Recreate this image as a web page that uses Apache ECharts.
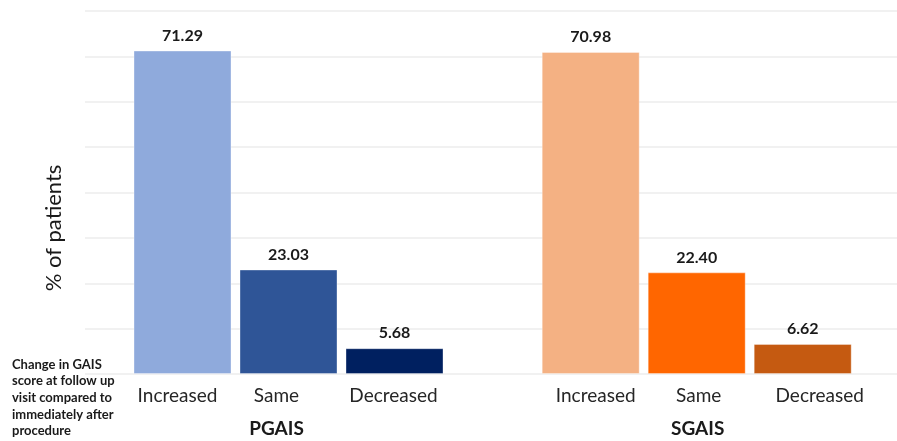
<!DOCTYPE html>
<html>
<head>
<meta charset="utf-8">
<script src="https://cdn.jsdelivr.net/npm/echarts@6/dist/echarts.min.js"></script>
<style>
  html, body { margin: 0; padding: 0; background: #ffffff; }
  #chart { width: 897px; height: 441px; }
</style>
</head>
<body>
<div id="chart"></div>
<script>
// Change in GAIS score at follow-up visit, % of patients
const categories = ['Increased', 'Same', 'Decreased'];
const pgaisValues = [71.29, 23.03, 5.68];
const sgaisValues = [70.98, 22.40, 6.62];
const groupNames = ['PGAIS', 'SGAIS'];
const pgaisColors = ['#8FAADC', '#2F5597', '#002060'];
const sgaisColors = ['#F4B183', '#FF6600', '#C55A11'];
const yMin = 0, yMax = 80, yStep = 10;

// horizontal nudges (px) of the category labels under each bar
const pgaisLabelShift = [-5, -12, -1];
const sgaisLabelShift = [5, 2, 17];

const FONT = 'Lato, "Open Sans", sans-serif';
const TOP = 11, BOTTOM = 67;

function shiftPad(s) {
  return s >= 0 ? [0, 0, 0, 2 * s] : [0, -2 * s, 0, 0];
}

function barSeries(values, colors, idx) {
  return {
    type: 'bar',
    xAxisIndex: idx,
    yAxisIndex: idx,
    barWidth: 98,
    data: values.map((v, i) => ({
      value: v,
      itemStyle: { color: colors[i], borderColor: 'rgba(255,255,255,0.35)', borderWidth: 1 }
    })),
    label: {
      show: true,
      position: 'top',
      distance: 7,
      formatter: p => p.value.toFixed(2),
      fontFamily: FONT,
      fontWeight: 'bold',
      fontSize: 16,
      color: '#1a1a1a'
    },
    silent: true
  };
}

function catAxis(idx, name, namePad, shifts) {
  const rich = {};
  shifts.forEach((s, i) => {
    rich['c' + i] = { fontFamily: FONT, fontSize: 19, color: '#262626', padding: shiftPad(s) };
  });
  return {
    type: 'category',
    gridIndex: idx,
    data: categories,
    axisLine: { show: false },
    axisTick: { show: false },
    axisLabel: {
      interval: 0, margin: 12,
      fontFamily: FONT, fontSize: 19, color: '#262626',
      formatter: (val, i) => '{c' + i + '|' + val + '}',
      rich: rich
    },
    name: name,
    nameLocation: 'middle',
    nameGap: 45,
    nameTextStyle: {
      fontFamily: FONT, fontSize: 19, fontWeight: 'bold', color: '#1a1a1a',
      padding: namePad
    }
  };
}

function hiddenY(idx) {
  return {
    type: 'value', gridIndex: idx, min: yMin, max: yMax, interval: yStep,
    axisLine: { show: false }, axisTick: { show: false },
    axisLabel: { show: false }, splitLine: { show: false }
  };
}

const gridBase = { top: TOP, bottom: BOTTOM, containLabel: false, outerBoundsMode: 'none' };

const chart = echarts.init(document.getElementById('chart'), null, { renderer: 'canvas' });
chart.setOption({
  animation: false,
  backgroundColor: '#ffffff',
  grid: [
    Object.assign({ left: 85, right: 0 }, gridBase),
    Object.assign({ left: 129.5, width: 318 }, gridBase),
    Object.assign({ left: 537.7, width: 318 }, gridBase)
  ],
  xAxis: [
    { type: 'category', gridIndex: 0, data: [''], show: false },
    catAxis(1, groupNames[0], shiftPad(-12), pgaisLabelShift),
    catAxis(2, groupNames[1], shiftPad(1), sgaisLabelShift)
  ],
  yAxis: [
    {
      type: 'value', gridIndex: 0, min: yMin, max: yMax, interval: yStep,
      axisLine: { show: false }, axisTick: { show: false }, axisLabel: { show: false },
      splitLine: { show: true, lineStyle: { color: '#EDEDED', width: 1.5 } }
    },
    hiddenY(1),
    hiddenY(2)
  ],
  series: [
    barSeries(pgaisValues, pgaisColors, 1),
    barSeries(sgaisValues, sgaisColors, 2)
  ],
  graphic: [
    {
      type: 'text',
      x: 54, y: 228,
      rotation: Math.PI / 2,
      style: {
        text: '% of patients',
        fontFamily: FONT, fontSize: 22, fill: '#1a1a1a',
        align: 'center', verticalAlign: 'middle'
      }
    },
    {
      type: 'text',
      left: 12, top: 356,
      style: {
        text: 'Change in GAIS\nscore at follow up\nvisit compared to\nimmediately after\nprocedure',
        fontFamily: FONT, fontSize: 13, fontWeight: 'bold', fill: '#1a1a1a',
        lineHeight: 16.7
      }
    }
  ]
});
</script>
</body>
</html>
